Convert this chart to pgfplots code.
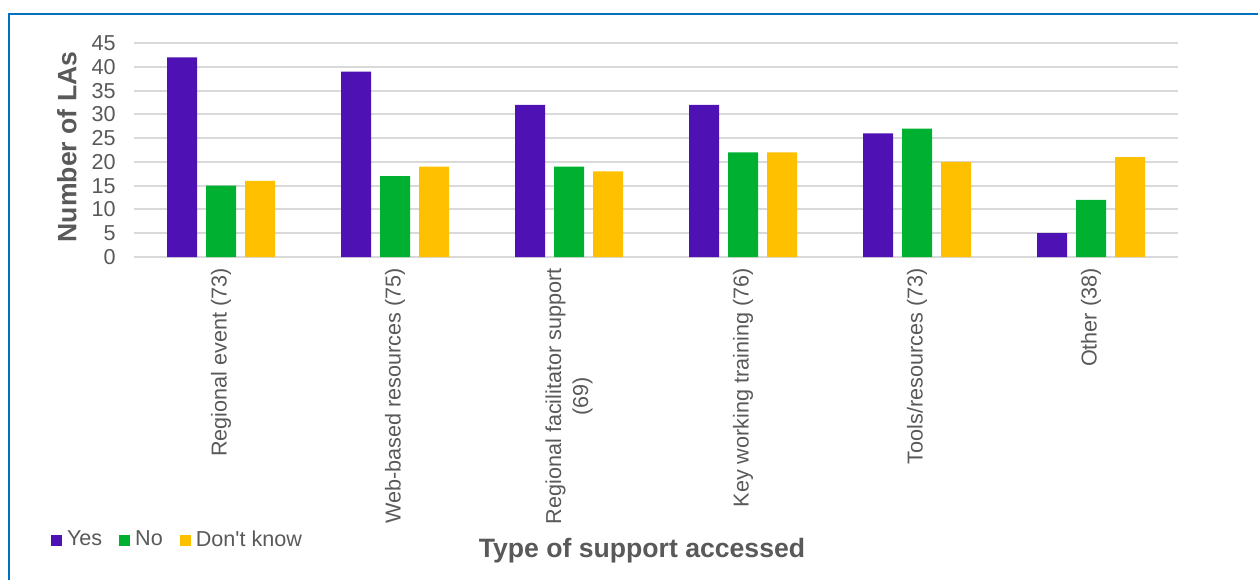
\documentclass[border=0pt]{standalone}
\usepackage{pgfplots}
\pgfplotsset{compat=1.18}
\usepackage{fontspec}
\setmainfont{Liberation Sans}[Ligatures=TeXOff]
\definecolor{cYes}{RGB}{78,17,180}
\definecolor{cNo}{RGB}{0,176,48}
\definecolor{cDK}{RGB}{255,192,0}
\definecolor{cText}{RGB}{89,89,89}
\definecolor{cGrid}{RGB}{217,217,217}
\definecolor{cFrame}{RGB}{0,112,192}
\begin{document}
\begin{tikzpicture}
\path[use as bounding box] (0,0) rectangle (629pt,-289.5pt);
\begin{scope}
\clip (0,0) rectangle (629pt,-289.5pt);
\draw[cFrame, line width=1pt] (4.5pt,-7pt) rectangle (660pt,-310pt);
\end{scope}
\begin{axis}[
  at={(67pt,-128.5pt)}, anchor=south west,
  scale only axis, width=522pt, height=107pt,
  ymin=0, ymax=45, ytick={0,5,...,45},
  xmin=-0.5, xmax=5.5, xtick={0,1,2,3,4,5},
  xticklabels={Regional event (73), Web-based resources (75), {Regional facilitator support\\(69)}, Key working training (76), Tools/resources (73), Other (38)},
  ybar=4.5pt, bar width=15pt,
  ymajorgrids, major grid style={draw=cGrid, line width=1pt},
  axis line style={draw=none}, major tick length=0pt, tick style={draw=none},
  /pgf/number format/assume math mode=true,
  yticklabel style={font=\fontsize{10.8}{13}\selectfont, text=cText, anchor=east, inner sep=0pt, xshift=-9pt},
  xticklabel style={font=\fontsize{10.8}{13.5}\selectfont, text=cText, rotate=90, anchor=east, align=center, inner xsep=5.5pt, inner ysep=0pt},
  xlabel={Type of support accessed},
  ylabel={Number of LAs},
  every axis x label/.style={at={(axis description cs:0.4866,-1.374)}, anchor=center, font=\bfseries\fontsize{13.3}{16}\selectfont, text=cText},
  every axis y label/.style={at={(axis description cs:-0.0642,0.514)}, anchor=center, rotate=90, font=\bfseries\fontsize{13.3}{16}\selectfont, text=cText},
  legend columns=3,
  legend style={draw=none, fill=none, inner sep=0pt, outer sep=0pt, at={(-0.0795,-1.3224)}, anchor=west,
    font=\fontsize{10.8}{13}\selectfont, text=cText,
    nodes={inner xsep=0pt, inner ysep=1pt},
    /tikz/every odd column/.append style={column sep=2.5pt},
    /tikz/every even column/.append style={column sep=8.5pt}},
]
\addplot[fill=cYes, draw=none, legend image code/.code={\fill[cYes] (0pt,-2.75pt) rectangle (5.5pt,2.75pt);}] coordinates {(0,42) (1,39) (2,32) (3,32) (4,26) (5,5)};
\addplot[fill=cNo, draw=none, legend image code/.code={\fill[cNo] (0pt,-2.75pt) rectangle (5.5pt,2.75pt);}] coordinates {(0,15) (1,17) (2,19) (3,22) (4,27) (5,12)};
\addplot[fill=cDK, draw=none, legend image code/.code={\fill[cDK] (0pt,-2.75pt) rectangle (5.5pt,2.75pt);}] coordinates {(0,16) (1,19) (2,18) (3,22) (4,20) (5,21)};
\legend{Yes, No, Don't know}
\end{axis}
\end{tikzpicture}
\end{document}
